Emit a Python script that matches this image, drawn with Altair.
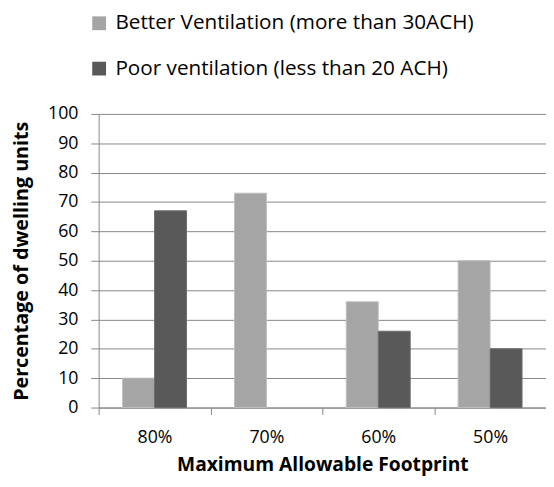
import altair as alt
import pandas as pd

footprints = ["80%", "70%", "60%", "50%"]
series = ["Better Ventilation (more than 30ACH)", "Poor ventilation (less than 20 ACH)"]
better = [10, 73, 36, 50]
poor = [67, 0, 26, 20]
colors = ["#a5a5a5", "#595959"]
edge_colors = ["#bdbdbd", "#6e6e6e"]
y_ticks = list(range(0, 101, 10))

rows = []
for i, f in enumerate(footprints):
    rows.append({"Footprint": f, "Series": series[0], "Value": better[i]})
    rows.append({"Footprint": f, "Series": series[1], "Value": poor[i]})
df = pd.DataFrame(rows)

FONT = "Open Sans"

chart = alt.Chart(df).mark_bar(strokeWidth=1).encode(
    x=alt.X("Footprint:N", sort=footprints,
            scale=alt.Scale(paddingInner=0, paddingOuter=0),
            axis=alt.Axis(title="Maximum Allowable Footprint", labelAngle=0,
                          tickBand="extent", labelPadding=14, titlePadding=10,
                          titleFontSize=19.5,
                          domainColor="#868686", tickColor="#868686",
                          tickSize=7, grid=False)),
    xOffset=alt.XOffset("Series:N", sort=series,
                        scale=alt.Scale(paddingInner=0, paddingOuter=0.75)),
    y=alt.Y("Value:Q", scale=alt.Scale(domain=[0, 100]),
            axis=alt.Axis(title="Percentage of dwelling units", values=y_ticks,
                          labelPadding=13, titlePadding=16, tickSize=8,
                          titleFontSize=20,
                          domainColor="#868686", tickColor="#868686",
                          gridColor="#868686", grid=True)),
    color=alt.Color("Series:N", sort=series,
                    scale=alt.Scale(domain=series, range=colors),
                    legend=alt.Legend(title=None, orient="none", legendX=-10, legendY=-102.5,
                                      symbolType="square", symbolSize=196,
                                      symbolStrokeWidth=0, labelFontSize=21,
                                      labelFont=FONT, labelColor="#000000",
                                      labelLimit=700,
                                      rowPadding=24, labelOffset=6,
                                      symbolOpacity=1)),
    stroke=alt.Stroke("Series:N", sort=series,
                      scale=alt.Scale(domain=series, range=edge_colors),
                      legend=None),
    strokeOpacity=alt.condition("datum.Value > 0", alt.value(1), alt.value(0)),
).properties(
    width=454, height=298,
    padding={"left": 92, "top": 104, "right": 0, "bottom": 69},
    autosize=alt.AutoSizeParams(type="none"),
).configure_view(stroke=None).configure_axis(
    labelFont=FONT, titleFont=FONT, labelFontSize=18,
    labelColor="#000000", titleColor="#000000", titleFontWeight="bold",
    domainWidth=1, gridWidth=1,
).configure_bar(opacity=1)

chart.save("out.html", embed_options={"renderer": "svg", "actions": False})
